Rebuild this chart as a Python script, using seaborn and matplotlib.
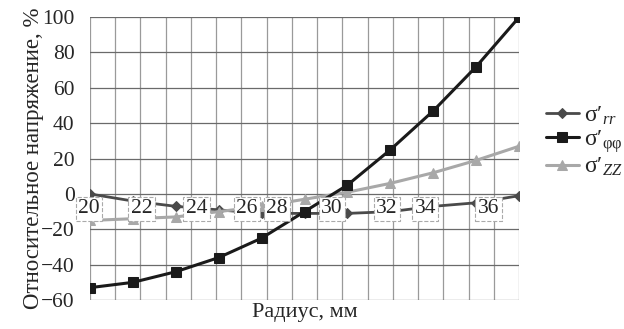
import numpy as np
import pandas as pd
import matplotlib
matplotlib.use('Agg')
import matplotlib.pyplot as plt
import seaborn as sns

# данные
radius = [20, 22, 24, 26, 28, 30, 32, 34, 36, 38, 40]
s_rr = [0, -4, -7, -9, -11, -11, -11, -10, -7, -5, -1]
s_ff = [-53, -50, -44, -36, -25, -10, 5, 25, 47, 72, 100]
s_zz = [-15, -14, -13, -10, -7, -3, 1, 6, 12, 19, 27]

tick_text = ['20', '22', '24', '26', '28', '30', '32', '34', '36']
tick_pos = [-0.02, 1.21, 2.49, 3.66, 4.36, 5.64, 6.92, 7.81, 9.28]
y_ticks = [100, 80, 60, 40, 20, 0, -20, -40, -60]

sns.set_style('white')
plt.rcParams['font.family'] = ['Liberation Serif', 'DejaVu Serif']
plt.rcParams['mathtext.fontset'] = 'custom'
plt.rcParams['mathtext.rm'] = 'Liberation Serif'
plt.rcParams['mathtext.it'] = 'Liberation Serif:italic'

fig = plt.figure(figsize=(6.24, 3.29), dpi=100)
ax = fig.add_axes([0.144, 0.088, 0.688, 0.86])

idx = np.arange(len(radius))
df = pd.DataFrame({'idx': idx, 'rr': s_rr, 'ff': s_ff, 'zz': s_zz})

# сетка
for v in np.linspace(0, 10, 18):
    ax.axvline(v, color='#9a9a9a', lw=0.9, zorder=0)
for v in y_ticks:
    ax.axhline(v, color='#6a6a6a', lw=0.9, zorder=0)

sns.lineplot(data=df, x='idx', y='rr', ax=ax, color='#4a4a4a', lw=2,
             marker='D', markersize=5, markeredgecolor='#4a4a4a',
             label="σ′$_{rr}$", zorder=3)
sns.lineplot(data=df, x='idx', y='ff', ax=ax, color='#1a1a1a', lw=2.2,
             marker='s', markersize=7, markeredgecolor='#1a1a1a',
             label="σ′$_{\\mathrm{φφ}}$", zorder=4)
sns.lineplot(data=df, x='idx', y='zz', ax=ax, color='#a8a8a8', lw=2.2,
             marker='^', markersize=7, markeredgecolor='#a8a8a8',
             label="σ′$_{ZZ}$", zorder=3)

ax.set_xlim(0, 10)
ax.set_ylim(-60, 100)
ax.set_yticks(y_ticks)
ax.set_yticklabels(['100', '80', '60', '40', '20', '0', '\u221220', '\u221240', '\u221260'])
ax.tick_params(axis='y', labelsize=15.5, length=0, pad=11)
ax.set_xticks([])
for sp in ax.spines.values():
    sp.set_visible(False)

# подписи оси X в рамках поверх графика
for p, t in zip(tick_pos, tick_text):
    ax.text(p, -8.5, t, fontsize=15.5, ha='center', va='center', zorder=6,
            bbox=dict(boxstyle='square,pad=0.12', fc='white', ec='#aaaaaa',
                      ls='--', lw=0.8))

ax.set_xlabel('Радиус, мм', fontsize=16, labelpad=2)
ax.set_ylabel('Относительное напряжение, %', fontsize=16.5, labelpad=-2)

leg = ax.legend(loc='center left', bbox_to_anchor=(1.04, 0.56), frameon=False,
                fontsize=17, handlelength=1.4, handletextpad=0.2,
                labelspacing=0.05, borderaxespad=0)

fig.savefig('out.png', dpi=100)
